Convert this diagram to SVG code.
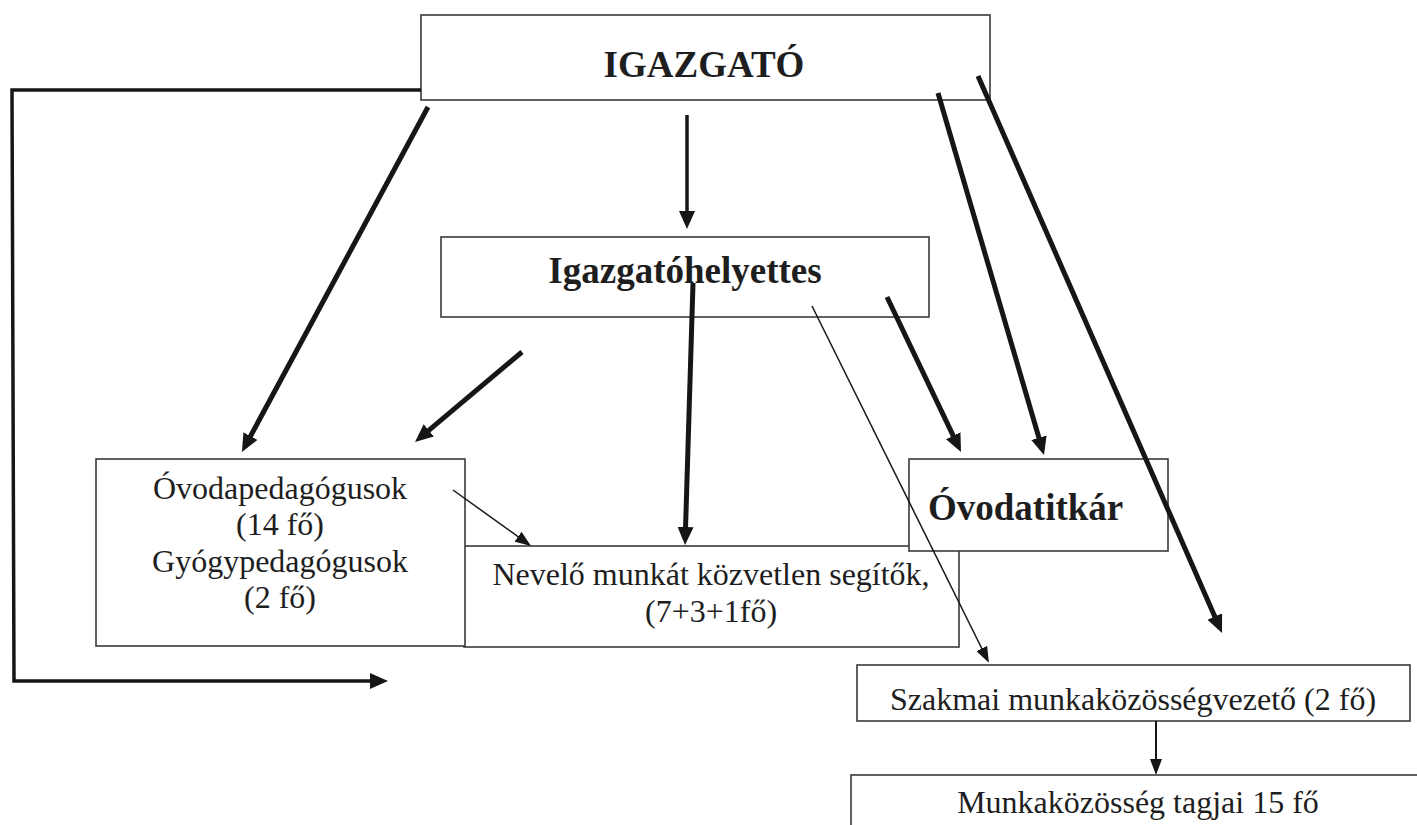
<svg xmlns="http://www.w3.org/2000/svg" width="1417" height="825" viewBox="0 0 1417 825">
<defs>
<style>
.box{fill:#fff;stroke:#3a3a3a;stroke-width:1.6}
.t{font-family:"Liberation Serif","Times New Roman",serif;font-size:32px;fill:#1e1e1e;text-anchor:middle}
.b{font-family:"Liberation Serif","Times New Roman",serif;font-size:37px;font-weight:bold;fill:#1e1e1e;text-anchor:middle}
.thick{fill:none;stroke:#161616;stroke-width:5;marker-end:url(#ah)}
.mid{fill:none;stroke:#161616;stroke-width:3.5;marker-end:url(#ah)}
.thin{fill:none;stroke:#161616;stroke-width:1.5;marker-end:url(#at)}
</style>
<marker id="ah" markerUnits="userSpaceOnUse" markerWidth="18" markerHeight="16" refX="12" refY="8" orient="auto">
<path d="M0,0 L18,8 L0,16 z" fill="#161616"/>
</marker>
<marker id="at" markerUnits="userSpaceOnUse" markerWidth="16" markerHeight="12" refX="14" refY="6" orient="auto">
<path d="M0,0 L16,6 L0,12 z" fill="#161616"/>
</marker>
</defs>

<g id="igazgato">
<rect class="box" x="421" y="15" width="569" height="85"/>
<text class="b" x="704" y="77">IGAZGATÓ</text>
</g>

<g id="igazgatohelyettes">
<rect class="box" x="441" y="237" width="488" height="80"/>
<text class="b" x="685" y="283">Igazgatóhelyettes</text>
</g>

<g id="nevelo">
<rect class="box" x="464" y="546" width="495" height="101"/>
<text class="t" x="711" y="585">Nevelő munkát közvetlen segítők,</text>
<text class="t" x="711" y="622">(7+3+1fő)</text>
</g>

<g id="ovodapedagogusok">
<rect class="box" x="96" y="459" width="369" height="187"/>
<text class="t" x="280" y="499">Óvodapedagógusok</text>
<text class="t" x="280" y="535">(14 fő)</text>
<text class="t" x="280" y="572">Gyógypedagógusok</text>
<text class="t" x="280" y="608">(2 fő)</text>
</g>

<g id="ovodatitkar">
<rect class="box" x="909" y="459" width="259" height="92"/>
<text class="b" x="928" y="520" style="text-anchor:start">Óvodatitkár</text>
</g>

<g id="szakmai">
<rect class="box" x="857" y="665" width="553" height="56"/>
<text class="t" x="1133" y="710">Szakmai munkaközösségvezető (2 fő)</text>
</g>

<g id="munkakozosseg">
<rect class="box" x="851" y="775" width="600" height="100"/>
<text class="t" x="1138" y="813">Munkaközösség tagjai 15 fő</text>
</g>

<g id="connectors">
<path class="mid" d="M421,90 L12,90 L14,681 L382,681"/>
<line class="thick" x1="428" y1="107" x2="244.8" y2="446.7"/>
<line class="mid" x1="687" y1="115" x2="687" y2="223"/>
<line class="thick" x1="522" y1="352" x2="419.6" y2="438.1"/>
<line class="thick" x1="693" y1="283" x2="685.2" y2="539"/>
<line class="thin" x1="453" y1="490" x2="529.4" y2="544.8"/>
<line class="thin" x1="812" y1="306" x2="988" y2="661"/>
<line class="thick" x1="887" y1="297" x2="958.4" y2="446.6"/>
<line class="thick" x1="938" y1="93" x2="1042.3" y2="449.2"/>
<line class="thick" x1="978" y1="76" x2="1219.6" y2="627.5"/>
<line class="thin" x1="1156" y1="721" x2="1156" y2="773" style="stroke-width:2"/>
</g>
</svg>
